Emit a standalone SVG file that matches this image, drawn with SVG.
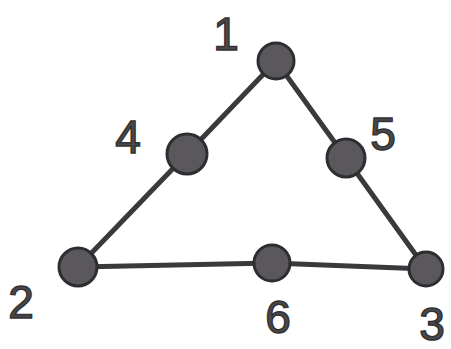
<svg xmlns="http://www.w3.org/2000/svg" width="451" height="349" viewBox="0 0 451 349">
<style>
.edge{stroke:#3a3a3c;stroke-width:5;stroke-linecap:round;fill:none}
.node{fill:#5a585c;stroke:#2e2e30;stroke-width:3}
.lbl{font-family:"Liberation Sans",Arial,sans-serif;font-size:46px;fill:#4a484c;stroke:#333;stroke-width:1.5;text-anchor:middle}
</style>
<rect width="451" height="349" fill="#fff"/>
<g id="connectors">
<line class="edge" x1="276" y1="61" x2="187" y2="154"/>
<line class="edge" x1="187" y1="154" x2="78" y2="267"/>
<line class="edge" x1="276" y1="61" x2="346" y2="158"/>
<line class="edge" x1="346" y1="158" x2="426" y2="269"/>
<line class="edge" x1="78" y1="267" x2="272" y2="263"/>
<line class="edge" x1="272" y1="263" x2="426" y2="269"/>
</g>
<g id="n1"><circle class="node" cx="276" cy="61" r="18"/><text class="lbl" x="226" y="50">1</text></g>
<g id="n4"><circle class="node" cx="187" cy="154" r="20"/><text class="lbl" x="128" y="153">4</text></g>
<g id="n5"><circle class="node" cx="346" cy="158" r="19"/><text class="lbl" x="383" y="150">5</text></g>
<g id="n2"><circle class="node" cx="78" cy="267" r="19"/><text class="lbl" x="21" y="318">2</text></g>
<g id="n6"><circle class="node" cx="272" cy="263" r="18"/><text class="lbl" x="278" y="333">6</text></g>
<g id="n3"><circle class="node" cx="426" cy="269" r="17"/><text class="lbl" x="432" y="340">3</text></g>
</svg>
